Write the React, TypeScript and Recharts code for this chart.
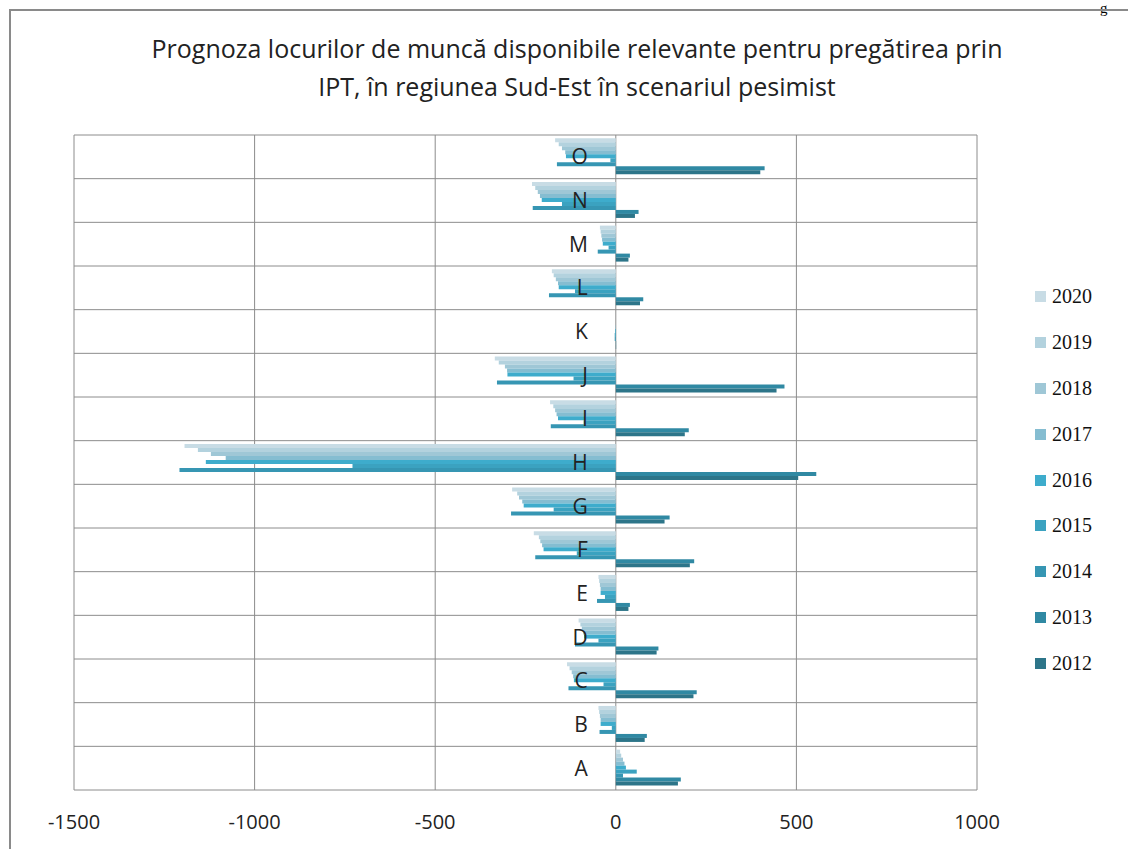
import { BarChart, Bar, XAxis, YAxis, CartesianGrid } from 'recharts';

// categories A..O (A at the bottom of the chart)
const categories = ['A', 'B', 'C', 'D', 'E', 'F', 'G', 'H', 'I', 'J', 'K', 'L', 'M', 'N', 'O'];
const years = ['2020', '2019', '2018', '2017', '2016', '2015', '2014', '2013', '2012'];
const colors = ['#c8dce5', '#b3d2de', '#9fc7d6', '#85bdd1', '#3eaccc', '#3ba2c0', '#3696b3', '#3089a3', '#2d7589'];

const v2020 = [12, -48, -135, -103, -48, -227, -287, -1194, -182, -335, 0, -177, -44, -232, -168];
const v2019 = [15, -46, -128, -98, -46, -213, -273, -1157, -173, -324, 0, -172, -42, -223, -158];
const v2018 = [20, -44, -122, -94, -44, -209, -268, -1121, -168, -307, 0, -166, -40, -216, -149];
const v2017 = [24, -42, -118, -90, -42, -204, -259, -1080, -164, -301, -1, -160, -38, -210, -140];
const v2016 = [28, -42, -116, -88, -42, -200, -255, -1135, -160, -300, -2, -158, -36, -205, -138];
const v2015 = [58, -11, -34, -48, -30, -108, -172, -729, -89, -117, -3, -113, -20, -149, -15];
const v2014 = [20, -45, -131, -113, -52, -223, -290, -1208, -180, -329, -3, -185, -50, -230, -163];
const v2013 = [180, 86, 224, 118, 39, 217, 149, 555, 202, 467, 1, 76, 39, 63, 412];
const v2012 = [172, 80, 215, 113, 35, 205, 135, 505, 191, 445, 1, 67, 35, 53, 400];

const seriesValues = [v2020, v2019, v2018, v2017, v2016, v2015, v2014, v2013, v2012];

const xTicks = [-1500, -1000, -500, 0, 500, 1000];
const X_DOMAIN = [-1500, 1000];

// top row of the chart is O, so the table runs O..A
const data = categories
  .map((cat, i) => {
    const row: Record<string, string | number> = { cat };
    years.forEach((y, s) => {
      row[y] = seriesValues[s][i];
    });
    return row;
  })
  .reverse();

const W = 1128;
const H = 849;
const Y_AXIS_W = 1;
const margin = { top: 135, right: 151, bottom: 19, left: 73 };
const font = '"Open Sans", "Noto Sans", sans-serif';

function CategoryTick(props: any) {
  const { y, payload } = props;
  const plotLeft = margin.left + Y_AXIS_W;
  const plotW = W - plotLeft - margin.right;
  const zeroX = plotLeft + (plotW * (0 - X_DOMAIN[0])) / (X_DOMAIN[1] - X_DOMAIN[0]);
  return (
    <text x={zeroX - 28} y={y} dy="0.35em" textAnchor="end" fontSize={21} fontFamily={font} fill="#222">
      {payload.value}
    </text>
  );
}

export default function App() {
  return (
    <div style={{ position: 'absolute', left: 0, top: 0, width: W, height: H, background: '#fff', overflow: 'hidden' }}>
      <div
        style={{
          position: 'absolute',
          left: 1100,
          top: 0,
          fontFamily: '"Liberation Serif", serif',
          fontSize: 15,
          lineHeight: 'normal',
        }}
      >
        g
      </div>
      <div style={{ position: 'absolute', left: 9, top: 9, width: W, height: 2, background: '#8a8a8a' }} />
      <div style={{ position: 'absolute', left: 9, top: 9, width: 2, height: H, background: '#8a8a8a' }} />
      <div
        style={{
          position: 'absolute',
          left: 77,
          width: 1000,
          top: 29,
          textAlign: 'center',
          fontFamily: font,
          fontSize: 25,
          lineHeight: '38px',
          color: '#222',
        }}
      >
        Prognoza locurilor de muncă disponibile relevante pentru pregătirea prin
        <br />
        IPT, în regiunea Sud-Est în scenariul pesimist
      </div>
      <div style={{ position: 'absolute', left: 0, top: 0 }}>
        <BarChart
          width={W}
          height={H}
          data={data}
          layout="vertical"
          margin={margin}
          barCategoryGap="7.5%"
          barGap={0}
        >
          <CartesianGrid
            stroke="#8c8c8c"
            horizontalCoordinatesGenerator={({ offset }: any) =>
              Array.from({ length: categories.length + 1 }, (_, i) => offset.top + (i * offset.height) / categories.length)
            }
          />
          <XAxis
            type="number"
            domain={X_DOMAIN}
            ticks={xTicks}
            interval={0}
            axisLine={false}
            tickLine={false}
            height={40}
            tickMargin={19}
            tick={{ fontSize: 20, fontFamily: font, fill: '#222' }}
          />
          {years.map((y, s) => (
            <Bar key={y} dataKey={y} fill={colors[s]} isAnimationActive={false} />
          ))}
          <YAxis
            type="category"
            dataKey="cat"
            width={Y_AXIS_W}
            axisLine={false}
            tickLine={false}
            interval={0}
            tick={(p: any) => <CategoryTick {...p} />}
          />
        </BarChart>
      </div>
      <div style={{ position: 'absolute', left: 1035, top: 274 }}>
        {years.map((y, s) => (
          <div key={y} style={{ display: 'flex', alignItems: 'center', height: 45.8 }}>
            <span style={{ width: 11, height: 11, background: colors[s], marginRight: 6 }} />
            <span style={{ fontFamily: '"Liberation Serif", serif', fontSize: 20, color: '#111' }}>{y}</span>
          </div>
        ))}
      </div>
    </div>
  );
}
